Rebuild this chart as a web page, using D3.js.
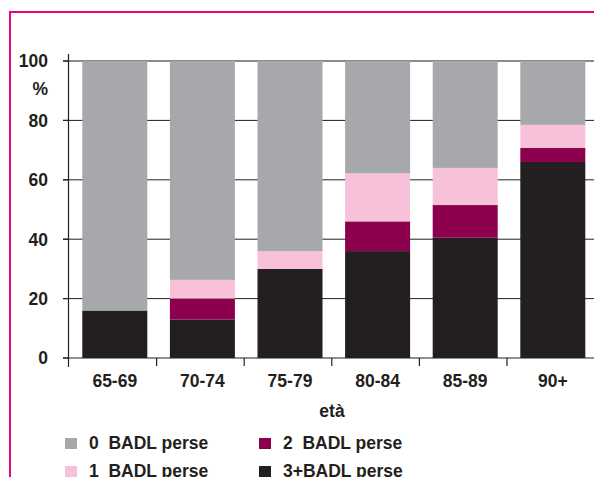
<!DOCTYPE html>
<html>
<head>
<meta charset="utf-8">
<script src="https://cdn.jsdelivr.net/npm/d3@7"></script>
<style>
  html, body { margin: 0; padding: 0; background: #fff; }
  svg { display: block; }
  text { font-family: "Liberation Sans", Arial, Helvetica, sans-serif; fill: #231f20; }
</style>
</head>
<body>
<svg id="chart" width="594" height="477"></svg>
<script>
const categories = ["65-69", "70-74", "75-79", "80-84", "85-89", "90+"];
const seriesKeys = ["s3", "s2", "s1", "s0"];
const s3plus = [16, 13, 30, 36, 40.5, 66];
const s2 = [0, 7, 0, 10, 11, 4.7];
const s1 = [0, 6.3, 6, 16.2, 12.5, 7.8];
const s0 = [84, 73.7, 64, 37.8, 36, 21.5];
const yTicks = [0, 20, 40, 60, 80, 100];
const legendLabels = ["0  BADL perse", "1  BADL perse", "2  BADL perse", "3+BADL perse"];
const legendKeys = ["s0", "s1", "s2", "s3"];
const colors = { s0: "#a7a8ab", s1: "#f6c1d9", s2: "#8c004e", s3: "#231f20" };

const rows = categories.map((c, i) => ({ cat: c, s3: s3plus[i], s2: s2[i], s1: s1[i], s0: s0[i] }));
const stacked = d3.stack().keys(seriesKeys)(rows);

const svg = d3.select("#chart");
const fs = 17.5;

// frame
svg.append("line").attr("x1", 10).attr("x2", 594).attr("y1", 12).attr("y2", 12)
  .attr("stroke", "#e8067f").attr("stroke-width", 2);
svg.append("line").attr("x1", 10).attr("x2", 10).attr("y1", 11).attr("y2", 477)
  .attr("stroke", "#e8067f").attr("stroke-width", 2);

const y = d3.scaleLinear().domain([0, 100]).range([358, 61]);
const x = d3.scaleBand().domain(categories).range([71, 596.6]).paddingInner(0.258).paddingOuter(0.129);
const xb = d3.scaleBand().domain(categories).range([69, 594.6]).padding(0);

// gridlines
svg.append("g").selectAll("line").data(yTicks.filter(t => t > 0)).join("line")
  .attr("x1", 63).attr("x2", 594)
  .attr("y1", d => y(d)).attr("y2", d => y(d))
  .attr("stroke", d => d === 100 ? "#8a8a8c" : "#231f20")
  .attr("stroke-width", d => d === 100 ? 2 : 1);

// bars
svg.append("g").selectAll("g").data(stacked).join("g")
  .attr("fill", d => colors[d.key])
  .selectAll("rect").data(d => d).join("rect")
  .attr("x", d => x(d.data.cat))
  .attr("width", x.bandwidth())
  .attr("y", d => y(d[1]))
  .attr("height", d => y(d[0]) - y(d[1]));

// x axis baseline
svg.append("line").attr("x1", 63).attr("x2", 594).attr("y1", y(0)).attr("y2", y(0))
  .attr("stroke", "#231f20").attr("stroke-width", 1.2);
// y axis
svg.append("line").attr("x1", 68.5).attr("x2", 68.5).attr("y1", 54).attr("y2", 367)
  .attr("stroke", "#231f20").attr("stroke-width", 1.2);
// y ticks
svg.append("g").selectAll("line").data(yTicks).join("line")
  .attr("x1", 63).attr("x2", 69).attr("y1", d => y(d)).attr("y2", d => y(d))
  .attr("stroke", "#231f20").attr("stroke-width", 1.2);
// x ticks
svg.append("g").selectAll("line").data(categories.slice(1)).join("line")
  .attr("x1", d => xb(d)).attr("x2", d => xb(d)).attr("y1", y(0)).attr("y2", 366)
  .attr("stroke", "#231f20").attr("stroke-width", 1.2);

// y labels
svg.append("g").selectAll("text").data(yTicks).join("text")
  .attr("x", 48).attr("y", d => y(d)).attr("dy", "0.36em")
  .attr("text-anchor", "end").attr("font-size", fs).attr("font-weight", "bold")
  .text(d => d);
svg.append("text").attr("x", 48).attr("y", 95).attr("text-anchor", "end")
  .attr("font-size", fs).attr("font-weight", "bold").text("%");

// x labels
svg.append("g").selectAll("text").data(categories).join("text")
  .attr("x", d => x(d) + x.bandwidth() / 2).attr("y", 387)
  .attr("text-anchor", "middle").attr("font-size", fs).attr("font-weight", "bold")
  .text(d => d);
svg.append("text").attr("x", 332).attr("y", 417).attr("text-anchor", "middle")
  .attr("font-size", fs).attr("font-weight", "bold").text("età");

// legend
const lg = svg.append("g");
legendKeys.forEach((k, i) => {
  const col = Math.floor(i / 2), row = i % 2;
  const lx = col === 0 ? 65 : 259;
  const ly = row === 0 ? 438 : 466;
  lg.append("rect").attr("x", lx).attr("y", ly).attr("width", 12).attr("height", 11).attr("fill", colors[k]);
  lg.append("text").attr("x", lx + 24).attr("y", ly + 11.3)
    .attr("font-size", fs).attr("font-weight", "bold")
    .style("white-space", "pre").text(legendLabels[i]);
});
</script>
</body>
</html>
